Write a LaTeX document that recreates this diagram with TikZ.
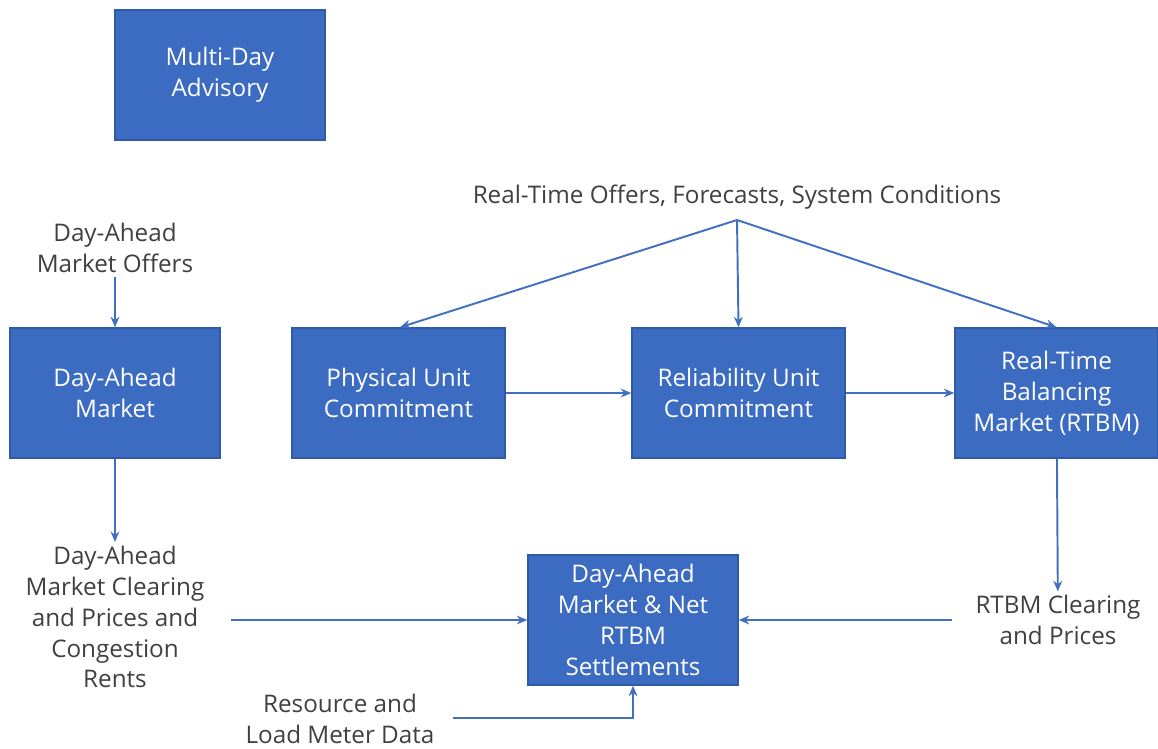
\documentclass[tikz,border=0pt]{standalone}
\usepackage{fontspec}
\setmainfont{Open Sans}
\usetikzlibrary{arrows.meta}

\definecolor{boxblue}{HTML}{3C6BC2}
\definecolor{edgeblue}{HTML}{2F5AA6}
\definecolor{lineblue}{HTML}{4270C0}
\definecolor{txtgray}{HTML}{404040}

\tikzset{
  block/.style={rectangle,draw=edgeblue,fill=boxblue,line width=0.8pt,text=white,
    minimum width=4.2cm,minimum height=2.6cm,align=center,inner sep=2pt},
  label/.style={text=txtgray,align=center,inner sep=2pt},
  flow/.style={-{Stealth[length=6pt,width=5pt]},draw=lineblue,line width=1.1pt}
}

\begin{document}
\begin{tikzpicture}[x=0.02cm,y=-0.02cm,font=\fontsize{13.8}{17.6}\selectfont]
\useasboundingbox (0,0) rectangle (1158,748);

\coordinate (M) at (220,75);
\coordinate (D) at (115,393);
\coordinate (P) at (398.5,393);
\coordinate (R) at (738.5,393);
\coordinate (B) at (1056.5,393);
\coordinate (S) at (633,620);
\coordinate (T) at (737,197);
\coordinate (O) at (115,248);
\coordinate (C) at (115,617);
\coordinate (Q) at (1058,620);
\coordinate (L) at (340,719);
\coordinate (X) at (737,220);

\node[block] (MDA) at (M) {Multi-Day\\Advisory};
\node[block] (DAM) at (D) {Day-Ahead\\Market};
\node[block,minimum width=4.26cm] (PUC) at (P) {Physical Unit\\Commitment};
\node[block,minimum width=4.26cm] (RUC) at (R) {Reliability Unit\\Commitment};
\node[block,minimum width=4.06cm] (RTBM) at (B) {Real-Time\\Balancing\\Market (RTBM)};
\node[block] (SET) at (S) {Day-Ahead\\Market \& Net\\RTBM\\Settlements};

\node[label] (RTO) at (T) {Real-Time Offers, Forecasts, System Conditions};
\node[label] (DAO) at (O) {Day-Ahead\\Market Offers};
\node[label] (DAC) at (C) {Day-Ahead\\Market Clearing\\and Prices and\\Congestion\\Rents};
\node[label] (RTC) at (Q) {RTBM Clearing\\and Prices};
\node[label] (RMD) at (L) {Resource and\\Load Meter Data};

\draw[flow] (X) -- ([xshift=0.03cm]PUC.north);
\draw[flow] (X) -- (RUC.north);
\draw[flow] (X) -- (RTBM.north);
\draw[flow] (DAO) -- (DAM);
\draw[flow] (DAM) -- (DAC);
\draw[flow] (PUC) -- (RUC);
\draw[flow] (RUC) -- (RTBM);
\draw[flow] (RTBM) -- (RTC);
\draw[flow] ([xshift=0.45cm]DAC.east |- SET.west) -- (SET.west);
\draw[flow] ([xshift=-0.4cm]RTC.west |- SET.east) -- (SET.east);
\draw[flow] ([xshift=0.3cm,yshift=0.02cm]RMD.east) -| (SET.south);

\end{tikzpicture}
\end{document}
